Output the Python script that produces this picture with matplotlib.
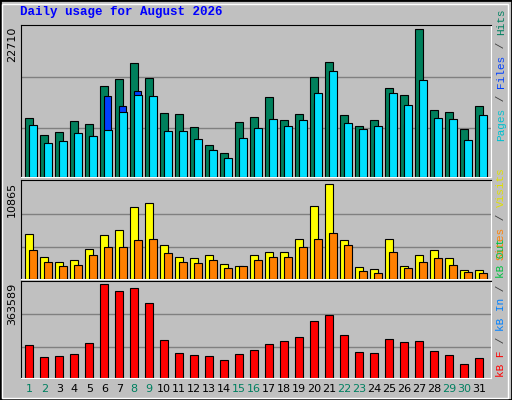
import matplotlib.pyplot as plt
import numpy as np

days = list(range(1, 32))
weekend = [1, 2, 8, 9, 15, 16, 22, 23, 29, 30]

hits = [9084, 6452, 6917, 8620, 8155, 14040, 15124, 17602, 15279, 9859, 9704, 7691, 4904, 3665, 8465, 9240,
        12336, 8775, 9704, 15434, 17757, 9549, 7846, 8775, 13730, 12646, 22710, 10323, 10014, 7381, 10943]
files = [8000, 5213, 5523, 6762, 6297, 7226, 10014, 12646, 12491, 7072, 7072, 5833, 4129, 2891, 5988, 7536,
         8930, 7846, 8775, 12956, 16363, 8310, 7381, 7846, 12956, 11098, 14969, 9085, 8930, 5678, 9549]
pages = [7226, 4129, 4284, 4439, 6297, 12491, 10943, 13266, 12182, 6142, 4284, 3820, 4129, 2736, 3045, 4594,
         4904, 5058, 6297, 11407, 13420, 5833, 5678, 5213, 9240, 8155, 8155, 5833, 5058, 2891, 3820]
visits = [5200, 2481, 2008, 2126, 3425, 5078, 5669, 8267, 8740, 3898, 2481, 2362, 2717, 1772, 1535, 2717,
          3071, 3071, 4606, 8385, 10865, 4488, 1417, 1181, 4606, 1535, 2717, 3307, 2362, 1063, 1063]
sites = [3307, 2008, 1535, 1654, 2717, 3661, 3661, 4488, 4606, 2953, 2008, 1890, 2126, 1299, 1535, 2126,
         2481, 2481, 3661, 4606, 5315, 3898, 945, 709, 3071, 1299, 2008, 2362, 1654, 827, 709]
kbytes = [128720, 80950, 84930, 92890, 136680, 363589, 339710, 347670, 291940, 148620, 96870, 88910, 84930,
          69000, 92890, 108810, 132700, 144640, 160570, 220280, 244170, 168530, 100850, 96870, 152600, 140660,
          144640, 104830, 88910, 53080, 76970]

BG = '#C0C0C0'
MONO = ['Liberation Mono', 'DejaVu Sans Mono']
W, H = 512, 400

fig = plt.figure(figsize=(5.12, 4.0), dpi=100, facecolor=BG)
# bevel frame
fig.add_artist(plt.Rectangle((0, 0), 1, 1, transform=fig.transFigure, fill=False, edgecolor='black', lw=2))
fig.add_artist(plt.Rectangle((2 / W, 2 / H), 1 - 6 / W, 1 - 6 / H, transform=fig.transFigure,
                             fill=False, edgecolor='white', lw=1))

fig.text(20 / W, 1 - 12 / H, 'Daily usage for August 2026', color='#0000FF', fontsize=9,
         fontweight='bold', family=MONO, va='center')


def panel(top, bottom):
    return fig.add_axes([20.7 / W, 1 - bottom / H, 470 / W, (bottom - top) / H], facecolor=BG)


x = np.array(days, dtype=float)
xlim = (0.69, 32.02)
lw = 0.8


def finish(ax, ymax, label):
    ax.set_xlim(*xlim)
    ax.set_ylim(0, ymax)
    for f in (0.32, 0.655):
        ax.axhline(ymax * f, color='#808080', lw=1, zorder=0)
    ax.set_xticks([])
    ax.set_yticks([])
    for s in ax.spines.values():
        s.set_color('black')
    ax.spines['right'].set_color('white')
    ax.spines['bottom'].set_color('white')
    pos = ax.get_position()
    fig.text(pos.x0 - 4 / W, pos.y1 - 2 / H, label, rotation=90, ha='right', va='top',
             fontsize=8, family=['DejaVu Sans'])


renderer = fig.canvas.get_renderer()


def side_label(y_bottom_px, parts):
    # stack coloured pieces upwards, bottom to top
    y = 1 - y_bottom_px / H
    for txt, col in parts:
        t = fig.text(496 / W, y, txt, rotation=90, ha='left', va='bottom', color=col,
                     fontsize=8, family=MONO)
        ext = t.get_window_extent(renderer)
        y += ext.height / H


ax1 = panel(25, 177)
ax1.bar(x, hits, width=0.5, align='edge', color='#00805C', edgecolor='black', lw=lw, zorder=2)
ax1.bar(x + 0.22, pages, width=0.5, align='edge', color='#0040FF', edgecolor='black', lw=lw, zorder=3)
ax1.bar(x + 0.27, files, width=0.5, align='edge', color='#00E0FF', edgecolor='black', lw=lw, zorder=4)
finish(ax1, max(hits) * 1.03, '22710')
side_label(141, [('Pages', '#00C0D0'), (' / ', '#404040'), ('Files', '#0040FF'),
                 (' / ', '#404040'), ('Hits', '#008060')])

ax2 = panel(180, 279)
ax2.bar(x, visits, width=0.5, align='edge', color='#FFFF00', edgecolor='black', lw=lw, zorder=2)
ax2.bar(x + 0.27, sites, width=0.5, align='edge', color='#FF8000', edgecolor='black', lw=lw, zorder=3)
finish(ax2, max(visits) * 1.047, '10865')
side_label(260, [('Sites', '#FF8000'), (' / ', '#404040'), ('Visits', '#E0E000')])

ax3 = panel(281, 378)
ax3.bar(x, kbytes, width=0.53, align='edge', color='#FF0000', edgecolor='black', lw=lw, zorder=2)
finish(ax3, max(kbytes) * 1.036, '363589')
side_label(377, [('kB F', '#FF0000'), (' / ', '#404040'), ('kB In', '#0080FF'), (' / ', '#404040'),
                 ('kB Out', '#00C040')])

for d in days:
    xf = ax3.transData.transform((d + 0.26, 0))
    xf = fig.transFigure.inverted().transform(xf)[0]
    fig.text(xf, 1 - 389 / H, str(d), ha='center', va='center', fontsize=8, family=['DejaVu Sans'],
             color='#008060' if d in weekend else 'black')

fig.savefig('out.png', dpi=100, facecolor=BG)
